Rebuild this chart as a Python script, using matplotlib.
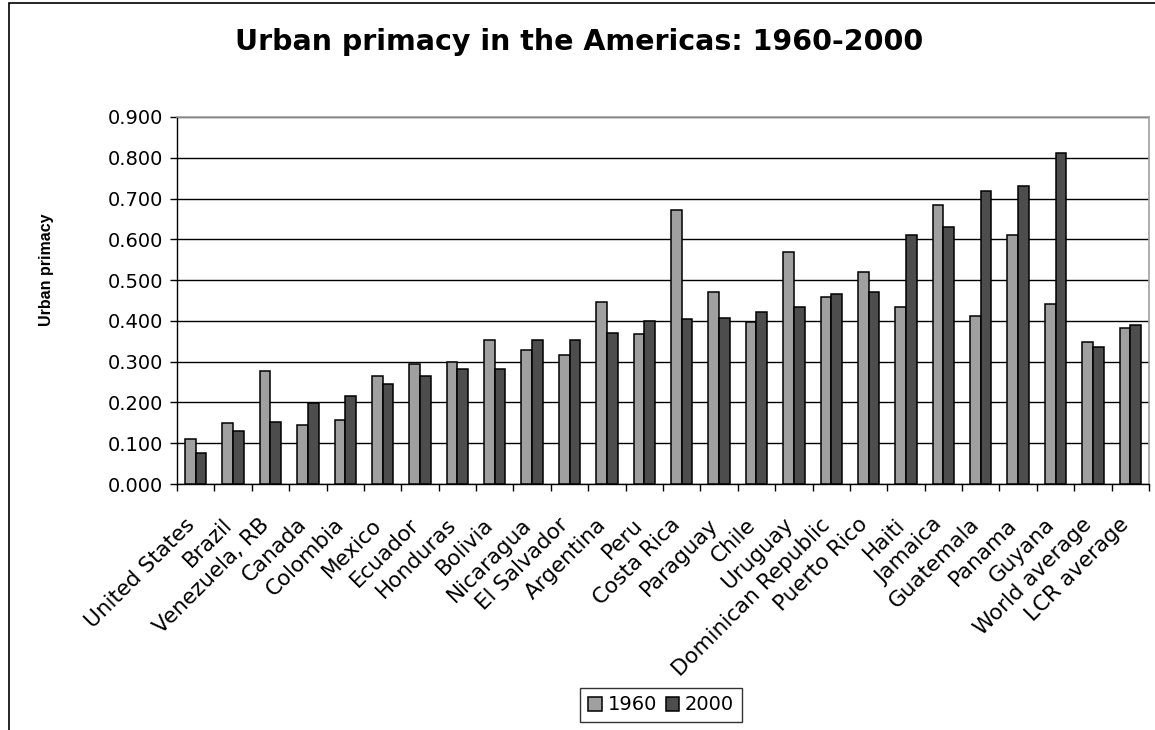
import matplotlib
matplotlib.use("Agg")
import matplotlib.pyplot as plt
from matplotlib.patches import Rectangle
import numpy as np

plt.rcParams['font.family'] = ['DejaVu Sans']

countries = ["United States", "Brazil", "Venezuela, RB", "Canada", "Colombia",
             "Mexico", "Ecuador", "Honduras", "Bolivia", "Nicaragua",
             "El Salvador", "Argentina", "Peru", "Costa Rica", "Paraguay",
             "Chile", "Uruguay", "Dominican Republic", "Puerto Rico", "Haiti",
             "Jamaica", "Guatemala", "Panama", "Guyana", "World average",
             "LCR average"]
primacy_1960 = [0.110, 0.149, 0.278, 0.144, 0.156, 0.266, 0.295, 0.300, 0.354,
                0.329, 0.316, 0.447, 0.367, 0.673, 0.471, 0.397, 0.568, 0.459,
                0.521, 0.434, 0.685, 0.412, 0.610, 0.442, 0.349, 0.383]
primacy_2000 = [0.077, 0.131, 0.152, 0.198, 0.215, 0.245, 0.266, 0.282, 0.282,
                0.354, 0.354, 0.371, 0.400, 0.404, 0.408, 0.421, 0.434, 0.467,
                0.471, 0.610, 0.631, 0.719, 0.732, 0.812, 0.336, 0.391]
series_names = ["1960", "2000"]
y_ticks = [0.0, 0.1, 0.2, 0.3, 0.4, 0.5, 0.6, 0.7, 0.8, 0.9]

W, H = 1155, 730
fig = plt.figure(figsize=(W / 100, H / 100), dpi=100)
fig.patch.set_facecolor("white")

# plot area in pixel units
left, right, top, bottom = 177, 1149, 117, 484
ax = fig.add_axes([left / W, 1 - bottom / H, (right - left) / W, (bottom - top) / H])

n = len(countries)
x = np.arange(n)
bw = 0.286
ax.bar(x - bw / 2, primacy_1960, bw, color="#a0a0a0", edgecolor="black",
       linewidth=1.1, label=series_names[0], zorder=3)
ax.bar(x + bw / 2, primacy_2000, bw, color="#4d4d4d", edgecolor="black",
       linewidth=1.1, label=series_names[1], zorder=3)

ax.set_xlim(-0.5, n - 0.5)
ax.set_ylim(0, 0.9)
ax.set_yticks(y_ticks)
ax.set_yticklabels([f"{v:.3f}" for v in y_ticks], fontsize=14)
ax.yaxis.grid(True, color="black", linewidth=1.0, zorder=0)

# category boundaries get the tick marks, centres get the labels
ax.set_xticks(np.arange(n + 1) - 0.5)
ax.set_xticklabels([])
ax.set_xticks(x, minor=True)
ax.set_xticklabels(countries, minor=True, rotation=45, ha="right",
                   va="baseline", rotation_mode="anchor", fontsize=15.5)
ax.tick_params(axis="x", which="minor", length=0, pad=30)
ax.tick_params(axis="x", which="major", length=5, width=1, direction="out")
ax.tick_params(axis="y", length=5, width=1, direction="out", pad=5)

for s in ["top", "right"]:
    ax.spines[s].set_color("#a0a0a0")
    ax.spines[s].set_linewidth(1.2)
for s in ["left", "bottom"]:
    ax.spines[s].set_color("black")
    ax.spines[s].set_linewidth(1.0)
ax.spines["top"].set_zorder(4)

fig.text(579 / W, 1 - 42 / H, "Urban primacy in the Americas: 1960-2000",
         ha="center", va="center", fontsize=20.5, fontweight="bold")
fig.text(46 / W, 1 - 270 / H, "Urban primacy", rotation=90, ha="center",
         va="center", fontsize=11.5, fontweight="bold", family="Liberation Sans")

leg = ax.legend(loc="center", bbox_to_anchor=(661 / W, 1 - 705 / H),
                bbox_transform=fig.transFigure, ncol=2, fontsize=14,
                frameon=True, fancybox=False, edgecolor="black",
                handlelength=0.7, handleheight=0.7, handletextpad=0.3,
                columnspacing=0.45, borderpad=0.4)
leg.get_frame().set_linewidth(1.0)

# outer chart border (only left and top edges fall inside the image)
fig.patches.append(Rectangle((9 / W, -0.2), 1.5, 1 - 2.5 / H + 0.2,
                             transform=fig.transFigure, fill=False,
                             edgecolor="black", linewidth=1.2))

fig.savefig("out.png", dpi=100, facecolor="white")
